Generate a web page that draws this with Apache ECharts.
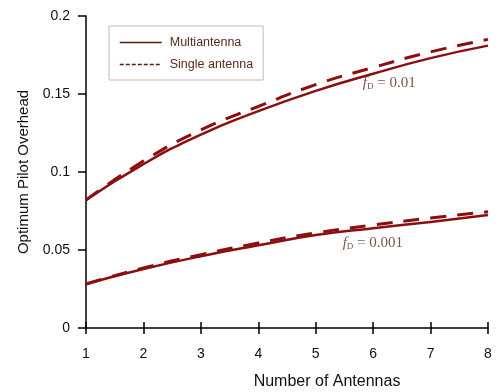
<!DOCTYPE html>
<html>
<head>
<meta charset="utf-8">
<script src="https://cdn.jsdelivr.net/npm/echarts@6/dist/echarts.min.js"></script>
<style>html,body{margin:0;padding:0;background:#fff}#c{width:498px;height:392px}</style>
</head>
<body>
<div id="c"></div>
<script>
var antennas = [1, 2, 3, 4, 5, 6, 7, 8];
var multi001 = [0.082, 0.105, 0.124, 0.139, 0.152, 0.163, 0.173, 0.181];
var single001 = [0.082, 0.107, 0.127, 0.142, 0.156, 0.167, 0.177, 0.185];
var multi0001 = [0.0282, 0.0378, 0.046, 0.053, 0.0596, 0.064, 0.068, 0.0724];
var single0001 = [0.0282, 0.0385, 0.047, 0.0545, 0.061, 0.066, 0.0705, 0.0745];
var yTicks = [0, 0.05, 0.1, 0.15, 0.2];
var labelTopValue = '0.01';
var labelBottomValue = '0.001';

function pairs(v) { return antennas.map(function (a, i) { return [a, v[i]]; }); }
var lineColor = '#8c0f0f';
var txtColor = '#5a2a1c';
var sansFont = 'Liberation Sans, Arial';
var richLab = {
  f: { fontFamily: 'Liberation Serif', fontStyle: 'italic', fontSize: 15, color: txtColor, lineHeight: 18 },
  s: { fontFamily: 'Liberation Serif', fontSize: 9, color: txtColor, lineHeight: 18, padding: [8, 0, 0, 0] },
  t: { fontFamily: 'Liberation Serif', fontSize: 15, color: txtColor, lineHeight: 18 }
};
function labelSeries(val, x, y) {
  return {
    type: 'scatter', silent: true, symbolSize: 0, data: [[x, y]],
    label: { show: true, position: 'right', distance: 0,
      formatter: '{f|f}{s|D}{t| = ' + val + '}', rich: richLab }
  };
}
var chart = echarts.init(document.getElementById('c'));
chart.setOption({
  animation: false,
  grid: { left: 86, right: 10, top: 16, bottom: 64, containLabel: false, outerBoundsMode: 'none' },
  legend: {
    show: true,
    orient: 'vertical', left: 109, top: 26,
    padding: [10, 10, 9, 10], itemGap: 9, itemWidth: 42, itemHeight: 14,
    borderColor: '#cbb9b0', borderWidth: 1,
    textStyle: { fontFamily: sansFont, fontSize: 12.5, color: txtColor, padding: [0, 0, 0, 3] },
    data: [
      { name: 'Multiantenna', itemStyle: { opacity: 0 }, lineStyle: { color: '#5a1e10', width: 1.5, type: 'solid' } },
      { name: 'Single antenna', itemStyle: { opacity: 0 }, lineStyle: { color: '#5a1e10', width: 1.5, type: [4, 2] } }
    ]
  },
  xAxis: [{
    type: 'value', min: 1, max: 8, interval: 1,
    name: 'Number of Antennas', nameLocation: 'middle', nameGap: 46,
    nameTextStyle: { fontFamily: sansFont, fontSize: 16, color: '#111', padding: [0, 0, 0, 80] },
    axisLine: { lineStyle: { color: '#000', width: 1.5 } },
    axisTick: { show: true, length: 6, lineStyle: { color: '#000', width: 1.5 } },
    axisLabel: { fontFamily: sansFont, fontSize: 14, color: '#111', margin: 19 },
    splitLine: { show: false }
  }, {
    type: 'value', min: 1, max: 8, interval: 1, position: 'bottom',
    axisLine: { show: false },
    axisTick: { show: true, inside: true, length: 6, lineStyle: { color: '#000', width: 1.5 } },
    axisLabel: { show: false }, splitLine: { show: false }
  }],
  yAxis: {
    type: 'value', min: 0, max: 0.2, interval: 0.05,
    name: 'Optimum Pilot Overhead', nameLocation: 'middle', nameGap: 51,
    nameTextStyle: { fontFamily: sansFont, fontSize: 15, color: '#111' },
    axisLine: { show: true, lineStyle: { color: '#000', width: 1.5 } },
    axisTick: { show: true, length: 8, lineStyle: { color: '#000', width: 1.5 } },
    axisLabel: { fontFamily: sansFont, fontSize: 14, color: '#111', margin: 16,
      formatter: function (v) { return yTicks.indexOf(v) >= 0 ? String(v) : ''; } },
    splitLine: { show: false }
  },
  series: [
    { name: 'Multiantenna', type: 'line', smooth: true, symbol: 'none', data: pairs(multi001),
      lineStyle: { color: lineColor, width: 2.5 }, itemStyle: { color: lineColor } },
    { name: 'Single antenna', type: 'line', smooth: true, symbol: 'none', data: pairs(single001),
      lineStyle: { color: lineColor, width: 3, type: [16, 11] }, itemStyle: { color: lineColor } },
    { name: 'Multiantenna', type: 'line', smooth: true, symbol: 'none', data: pairs(multi0001),
      lineStyle: { color: lineColor, width: 2.5 }, itemStyle: { color: lineColor } },
    { name: 'Single antenna', type: 'line', smooth: true, symbol: 'none', data: pairs(single0001),
      lineStyle: { color: lineColor, width: 3, type: [16, 11] }, itemStyle: { color: lineColor } },
    labelSeries(labelTopValue, 5.82, 0.157),
    labelSeries(labelBottomValue, 5.47, 0.0545)
  ]
});
</script>
</body>
</html>
